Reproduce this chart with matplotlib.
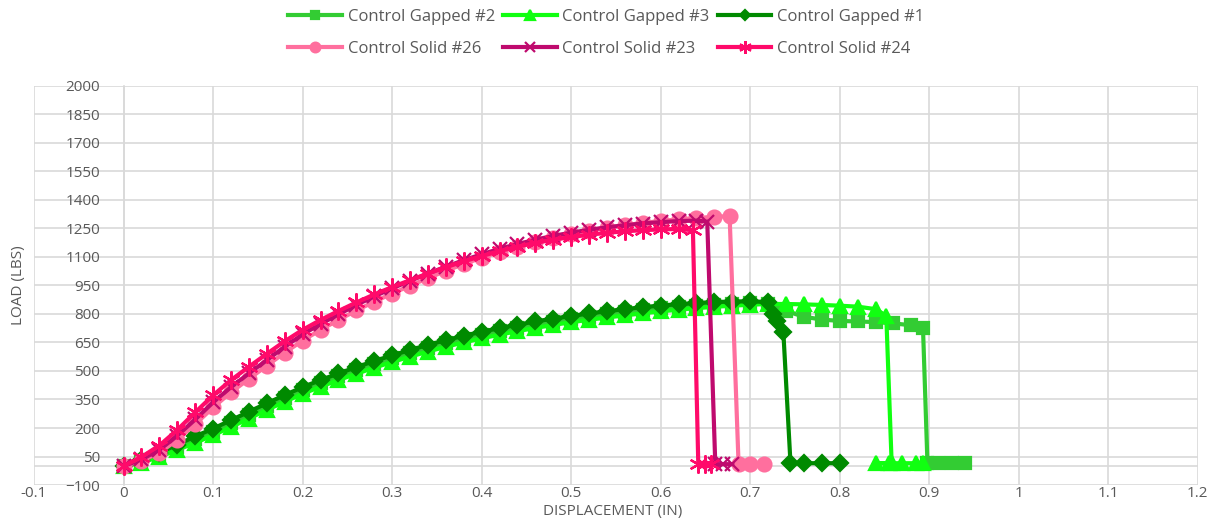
import numpy as np
import matplotlib.pyplot as plt

# Load vs displacement curves (in, lbs)
x_gap = [0.00, 0.02, 0.04, 0.06, 0.08, 0.10, 0.12, 0.14, 0.16, 0.18,
         0.20, 0.22, 0.24, 0.26, 0.28, 0.30, 0.32, 0.34, 0.36, 0.38,
         0.40, 0.42, 0.44, 0.46, 0.48, 0.50, 0.52, 0.54, 0.56, 0.58,
         0.60, 0.62, 0.64, 0.66, 0.68, 0.70, 0.72]

gap2_x = x_gap + [0.74, 0.76, 0.78, 0.80, 0.82, 0.84, 0.86, 0.88, 0.893,
                  0.898, 0.91, 0.925, 0.94]
gap2_y = [0, 25, 60, 100, 140, 180, 224, 270, 314, 357,
          399, 436, 471, 504, 536, 566, 594, 621, 646, 669,
          689, 709, 727, 744, 759, 773, 786, 798, 809, 819,
          829, 837, 844, 849, 853, 855, 852,
          815, 785, 770, 763, 760, 757, 750, 740, 728,
          15, 15, 15, 15]

gap3_x = x_gap + [0.74, 0.76, 0.78, 0.80, 0.82, 0.84, 0.852,
                  0.858, 0.84, 0.855, 0.87, 0.885, 0.893]
gap3_y = [0, 18, 48, 85, 122, 162, 205, 250, 295, 338,
          380, 417, 452, 485, 517, 547, 575, 602, 627, 650,
          671, 691, 709, 726, 742, 756, 769, 781, 792, 803,
          813, 822, 830, 837, 843, 848, 852,
          852, 850, 847, 843, 838, 825, 790,
          15, 15, 15, 15, 15, 15]

gap1_x = x_gap + [0.725, 0.73, 0.737, 0.745, 0.76, 0.78, 0.80]
gap1_y = [0, 30, 70, 113, 156, 197, 241, 286, 330, 373,
          415, 452, 487, 520, 552, 582, 610, 637, 662, 685,
          706, 725, 743, 760, 775, 789, 802, 814, 825, 835,
          844, 851, 857, 862, 865, 866, 862,
          800, 760, 706, 15, 15, 15, 15]

x_sol = [0.00, 0.02, 0.04, 0.06, 0.08, 0.10, 0.12, 0.14, 0.16, 0.18,
         0.20, 0.22, 0.24, 0.26, 0.28, 0.30, 0.32, 0.34, 0.36, 0.38,
         0.40, 0.42, 0.44, 0.46, 0.48, 0.50, 0.52, 0.54, 0.56, 0.58,
         0.60, 0.62]

sol26_x = x_sol + [0.64, 0.66, 0.677, 0.687, 0.70, 0.715]
sol26_y = [0, 28, 70, 138, 220, 308, 388, 458, 528, 596,
           660, 716, 768, 818, 864, 907, 948, 988, 1026, 1062,
           1095, 1126, 1153, 1178, 1201, 1221, 1238, 1253, 1266, 1278,
           1288, 1297, 1304, 1310, 1314, 10, 10, 10]

sol23_x = x_sol + [0.64, 0.652, 0.661, 0.67, 0.68]
sol23_y = [0, 35, 85, 160, 245, 335, 415, 487, 557, 627,
           692, 747, 797, 847, 892, 934, 974, 1012, 1048, 1082,
           1113, 1142, 1167, 1190, 1210, 1227, 1242, 1255, 1266, 1275,
           1282, 1288, 1290, 1285, 10, 10, 10]

sol24_x = x_sol + [0.636, 0.642, 0.65, 0.656]
sol24_y = [0, 48, 108, 190, 282, 372, 452, 522, 590, 656,
           716, 768, 815, 860, 902, 941, 977, 1012, 1045, 1076,
           1104, 1130, 1153, 1173, 1190, 1204, 1216, 1226, 1234, 1240,
           1244, 1246, 1240, 10, 10, 10]

x_ticks = np.round(np.arange(-0.1, 1.21, 0.1), 1)
x_labels = ['-0.1', '0', '0.1', '0.2', '0.3', '0.4', '0.5', '0.6',
            '0.7', '0.8', '0.9', '1', '1.1', '1.2']
y_ticks = np.arange(-100, 2001, 150)

plt.rcParams['font.family'] = ['Open Sans', 'DejaVu Sans']
txt = '#595959'
grid = '#d9d9d9'

fig = plt.figure(figsize=(12.25, 5.25), dpi=100)
ax = fig.add_axes([0.0278, 0.076, 0.950, 0.761])

series = [
    (gap2_x, gap2_y, 'Control Gapped #2', '#33cc33', 's', 9),
    (gap3_x, gap3_y, 'Control Gapped #3', '#11ff11', '^', 10),
    (gap1_x, gap1_y, 'Control Gapped #1', '#008a00', 'D', 8),
    (sol26_x, sol26_y, 'Control Solid #26', '#ff6f9e', 'o', 10),
    (sol23_x, sol23_y, 'Control Solid #23', '#bf0a6e', 'x', 10),
    (sol24_x, sol24_y, 'Control Solid #24', '#ff0a6a', (6, 2, 0), 13),
]
handles = []
for xs, ys, name, col, mk, ms in series:
    h, = ax.plot(xs, ys, color=col, lw=3, marker=mk, ms=ms,
                 mfc=col, mec=col, mew=1.6, label=name, zorder=3,
                 solid_joinstyle='round')
    handles.append(h)

ax.set_xlim(-0.1, 1.2)
ax.set_ylim(-100, 2000)
ax.set_xticks(x_ticks)
ax.set_xticklabels(x_labels)
ax.set_yticks(y_ticks)
ax.grid(True, color=grid, lw=1.2, zorder=0)
ax.axhline(0, color=grid, lw=1.2, zorder=1)

for s in ['top', 'right', 'bottom']:
    ax.spines[s].set_visible(False)
ax.spines['left'].set_position(('data', 0))
ax.spines['left'].set_color(grid)
ax.spines['left'].set_linewidth(1.2)
ax.tick_params(axis='y', length=0, pad=17, labelsize=11, labelcolor=txt)
ax.tick_params(axis='x', length=0, pad=1, labelsize=11, labelcolor=txt)

fig.text(0.5, 0.012, 'DISPLACEMENT (IN)', ha='center', va='bottom',
         fontsize=11, color=txt)
fig.text(0.015, 0.457, 'LOAD (LBS)', ha='center', va='center',
         rotation=90, fontsize=11, color=txt)

order = [0, 3, 1, 4, 2, 5]
leg = fig.legend([handles[i] for i in order], [handles[i].get_label() for i in order],
                 ncol=3, loc='upper center', bbox_to_anchor=(0.495, 1.012),
                 frameon=False, fontsize=12, handlelength=3.2,
                 labelspacing=0.95, columnspacing=0.5, handletextpad=0.35)
for t in leg.get_texts():
    t.set_color(txt)
for ln in leg.get_lines():
    ln.set_linewidth(3)
    ln.set_markersize(ln.get_markersize() * 0.7)

fig.savefig('out.png', dpi=100)
